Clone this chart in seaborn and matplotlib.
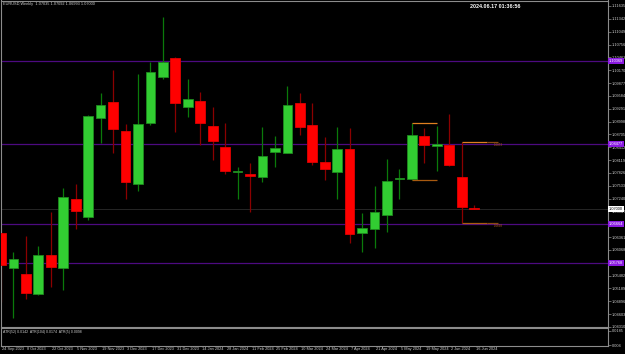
import matplotlib
matplotlib.use("Agg")
import matplotlib.pyplot as plt
import matplotlib.transforms as mtransforms
import seaborn as sns
import numpy as np

# ---------------- data ----------------
opens = [1.06459, 1.05645, 1.05524, 1.05052, 1.05950, 1.05645, 1.07241, 1.06830, 1.09088, 1.09439,
         1.08778, 1.07569, 1.08960, 1.10022, 1.10442, 1.09325, 1.09462, 1.08898, 1.08420, 1.07845,
         1.07790, 1.07729, 1.08306, 1.08276, 1.09423, 1.08914, 1.08078, 1.07856, 1.08367, 1.06450,
         1.06550, 1.06862, 1.07680, 1.07683, 1.08670, 1.08436, 1.08465, 1.07729, 1.07035]
highs = [1.06573, 1.06010, 1.06397, 1.06169, 1.06944, 1.07478, 1.07576, 1.09149, 1.09658, 1.10175,
         1.08944, 1.10080, 1.10358, 1.11391, 1.10472, 1.09970, 1.09667, 1.09325, 1.08974, 1.07970,
         1.08062, 1.08882, 1.08670, 1.09817, 1.09644, 1.09430, 1.08654, 1.08884, 1.08860, 1.06900,
         1.07530, 1.08139, 1.07918, 1.08960, 1.08860, 1.08898, 1.09165, 1.08527, 1.07092]
lows = [1.04886, 1.04521, 1.04947, 1.05038, 1.05212, 1.05159, 1.06550, 1.06757, 1.08518, 1.08290,
        1.07241, 1.07416, 1.08914, 1.09970, 1.08768, 1.09110, 1.08465, 1.08123, 1.07804, 1.07227,
        1.06944, 1.07615, 1.07964, 1.08271, 1.08700, 1.08016, 1.07667, 1.07234, 1.06220, 1.06010,
        1.06110, 1.06488, 1.07234, 1.07667, 1.08048, 1.07879, 1.07986, 1.06680, 1.06993]
closes = [1.05729, 1.05859, 1.05091, 1.05950, 1.05668, 1.07273, 1.06953, 1.09133, 1.09377, 1.08830,
          1.07615, 1.08944, 1.10136, 1.10364, 1.09416, 1.09514, 1.08974, 1.08550, 1.07879, 1.07870,
          1.07760, 1.08214, 1.08397, 1.09377, 1.08869, 1.08078, 1.07925, 1.08374, 1.06430, 1.06560,
          1.06940, 1.07644, 1.07710, 1.08693, 1.08465, 1.08481, 1.08009, 1.07058, 1.07000]

date_labels = ["24 Sep 2023", "8 Oct 2023", "22 Oct 2023", "5 Nov 2023", "19 Nov 2023",
               "3 Dec 2023", "17 Dec 2023", "31 Dec 2023", "14 Jan 2024", "28 Jan 2024",
               "11 Feb 2024", "25 Feb 2024", "10 Mar 2024", "24 Mar 2024", "7 Apr 2024",
               "21 Apr 2024", "5 May 2024", "19 May 2024", "2 Jun 2024", "16 Jun 2024"]

price_ticks = [1.11635, 1.11342, 1.11049, 1.10756, 1.10463, 1.10170, 1.09877, 1.09584, 1.09291,
               1.08998, 1.08705, 1.08412, 1.08119, 1.07826, 1.07533, 1.07240, 1.06947, 1.06654,
               1.06361, 1.06068, 1.05775, 1.05482, 1.05189, 1.04896, 1.04603, 1.04310]

purple_levels = [1.10369, 1.08477, 1.06664, 1.05768]
bid_price = 1.07000
range_a = [1.08960, 1.07667]   # high / low markers over weeks 33-35
range_b = [1.08527, 1.06680]   # high / low markers from week 37

header_left = "EURUSD,Weekly  1.07035 1.07092 1.06993 1.07000"
header_time = "2024.06.17 01:36:56"
atr_text = "ATR(52) 0.0142  ATR(104) 0.0174  ATR(5) 0.0098"
ind_ticks = [0.0185, 0.004]
ind_tick_labels = ["0.0185", "0.004"]

# ---------------- style ----------------
sns.set_theme(style="dark", rc={"axes.facecolor": "black", "figure.facecolor": "black",
                                "axes.grid": False})
plt.rcParams['font.family'] = ['Liberation Sans', 'DejaVu Sans']

W, H = 625, 354
fig = plt.figure(figsize=(W / 100, H / 100), dpi=100, facecolor="black")


def px_axes(x0, y0, x1, y1):
    return fig.add_axes([x0 / W, 1 - y1 / H, (x1 - x0) / W, (y1 - y0) / H])


ax = px_axes(0.5, 0.5, 607.5, 327)
axi = px_axes(0.5, 328, 607.5, 345.5)
GREY = "#8c8c8c"
TXT = "#d0d0d0"

for a in (ax, axi):
    a.set_facecolor("black")
    for s in a.spines.values():
        s.set_color(GREY)
        s.set_linewidth(0.8)

o = np.array(opens); c = np.array(closes); hi = np.array(highs); lo = np.array(lows)
x = np.arange(len(o))
up = c >= o

ax.vlines(x, lo, hi, colors=np.where(up, "#0a7a0a", "#8b0000").tolist(), linewidth=0.9, zorder=2)
ax.bar(x, np.maximum(np.abs(c - o), 0.00012), bottom=np.minimum(o, c), width=0.78,
       color=np.where(up, "#32cd32", "#ff0000").tolist(),
       edgecolor=np.where(up, "#1e8a1e", "#e00000").tolist(), linewidth=0.6, zorder=3)

for lv in purple_levels:
    ax.axhline(lv, color="#4d0a80", linewidth=0.9, zorder=1)
ax.axhline(bid_price, color="#262626", linewidth=0.7, zorder=1)

ax.hlines(range_a, 33, 35, colors=["#e08020", "#a85a10"], linewidth=0.9, zorder=4)
ax.hlines(range_b, 37, 39, colors=["#e08020", "#a85a10"], linewidth=0.9, zorder=4)
ax.hlines(range_b, 39, 39.9, colors=["#8a4a10", "#8a4a10"], linewidth=0.9, zorder=4)
for v in range_b:
    ax.text(39.6, v - 0.0006, f"{v:.4f}", color="#b0601a", fontsize=2.2, ha="left", va="center")

ax.set_xlim(-0.04, 48.71)
ax.set_ylim(1.04315, 1.1176)
axi.set_xlim(-0.04, 48.71)
axi.set_ylim(0.0035, 0.0215)

# price labels hidden where a level box sits on top of them
box_levels = purple_levels + [bid_price]
px_per_price = 326.5 / (1.1176 - 1.04315)
ax.yaxis.tick_right()
ax.set_yticks(price_ticks)
ax.set_yticklabels([f"{v:.5f}" if min(abs(v - b) for b in box_levels) * px_per_price > 2.0 else ""
                    for v in price_ticks])
ax.tick_params(axis="y", colors=GREY, labelcolor=TXT, labelsize=2.8, length=2, width=0.5, pad=1.2)
ax.set_xticks([])

axi.yaxis.tick_right()
axi.set_yticks(ind_ticks)
axi.set_yticklabels(ind_tick_labels)
axi.tick_params(axis="y", colors=GREY, labelcolor=TXT, labelsize=2.8, length=2, width=0.5, pad=1.2)
axi.set_xticks(np.arange(0, 2 * len(date_labels), 2))
axi.set_xticklabels(date_labels)
axi.tick_params(axis="x", colors=GREY, labelcolor=TXT, labelsize=2.8, length=2.5, width=0.5,
                pad=-1.2)
off = mtransforms.ScaledTranslation(1.5 / 100, 0, fig.dpi_scale_trans)
for lab in axi.get_xticklabels():
    lab.set_ha("left")
    lab.set_transform(lab.get_transform() + off)

tr = mtransforms.blended_transform_factory(ax.transAxes, ax.transData)
for lv in purple_levels:
    ax.text(1.002, lv, f"{lv:.5f}", transform=tr, color="white", fontsize=2.8, ha="left",
            va="center", bbox=dict(boxstyle="square,pad=0.25", fc="#8a1ae0", ec="none"),
            zorder=10, clip_on=False)
ax.text(1.002, bid_price, f"{bid_price:.5f}", transform=tr, color="black", fontsize=2.8, ha="left",
        va="center", bbox=dict(boxstyle="square,pad=0.25", fc="white", ec="none"), zorder=10,
        clip_on=False)

fig.text(3 / W, 1 - 4.5 / H, header_left, color=TXT, fontsize=2.8, ha="left", va="center")
fig.text(470 / W, 1 - 6 / H, header_time, color="white", fontsize=3.9, ha="left", va="center",
         fontweight="bold")
fig.text(3 / W, 1 - 331.5 / H, atr_text, color=TXT, fontsize=2.5, ha="left", va="center")

fig.savefig("out.png", dpi=100, facecolor="black")
